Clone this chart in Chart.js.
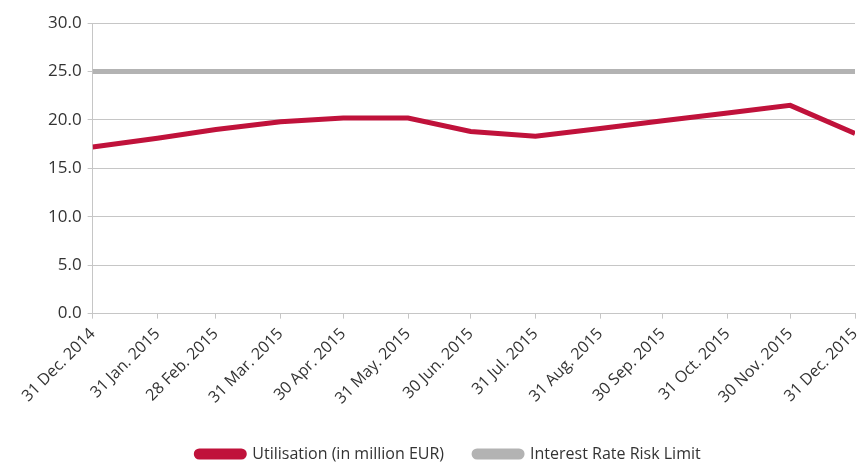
<!DOCTYPE html>
<html>
<head>
<meta charset="utf-8">
<script src="https://cdn.jsdelivr.net/npm/chart.js@4"></script>
<style>
  html, body { margin: 0; padding: 0; background: #fff; }
  #wrap { width: 858px; height: 463px; }
</style>
</head>
<body>
<div id="wrap"><canvas id="riskChart"></canvas></div>
<script>
// days since 31 Dec. 2014 for each month end
const dayOffsets = [0, 31, 59, 90, 120, 151, 181, 212, 243, 273, 304, 334, 365];
const tickLabels = [
  "31 Dec. 2014", "31 Jan. 2015", "28 Feb. 2015", "31 Mar. 2015", "30 Apr. 2015",
  "31 May. 2015", "30 Jun. 2015", "31 Jul. 2015", "31 Aug. 2015", "30 Sep. 2015",
  "31 Oct. 2015", "30 Nov. 2015", "31 Dec. 2015"
];
const utilisation = [17.2, 18.1, 19.0, 19.8, 20.2, 20.2, 18.8, 18.3, 19.1, 19.9, 20.7, 21.5, 18.6];
const riskLimit = [25, 25, 25, 25, 25, 25, 25, 25, 25, 25, 25, 25, 25];

const textColor = "#333";
const gridColor = "#c6c6c6";
const font = { family: "'Open Sans', sans-serif", size: 16 };

const toPoints = (vals) => vals.map((v, i) => ({ x: dayOffsets[i], y: v }));

new Chart(document.getElementById("riskChart").getContext("2d"), {
  type: "line",
  data: {
    datasets: [
      {
        label: "Utilisation (in million EUR)",
        data: toPoints(utilisation),
        borderColor: "#c0123b",
        backgroundColor: "#c0123b",
        borderWidth: 5,
        pointRadius: 0,
        tension: 0,
        order: 1,
      },
      {
        label: "Interest Rate Risk Limit",
        data: toPoints(riskLimit),
        borderColor: "#b3b3b3",
        backgroundColor: "#b3b3b3",
        borderWidth: 5,
        pointRadius: 0,
        order: 2,
      },
    ],
  },
  options: {
    responsive: true,
    maintainAspectRatio: false,
    animation: false,
    layout: { padding: { left: 42, right: 3, top: 23, bottom: -9 } },
    plugins: {
      tooltip: { enabled: false },
      legend: {
        position: "bottom",
        labels: {
          color: textColor,
          font: font,
          boxWidth: 48,
          boxHeight: 6,
          padding: 30,
          useBorderRadius: true,
          borderRadius: 3,
        },
      },
    },
    scales: {
      x: {
        type: "linear",
        min: 0,
        max: 365,
        afterBuildTicks: (scale) => {
          scale.ticks = dayOffsets.map((d) => ({ value: d }));
        },
        afterFit: (scale) => {
          scale.height += 2;
          scale.paddingRight = 0;
        },
        ticks: {
          color: textColor,
          font: font,
          autoSkip: false,
          minRotation: 45,
          maxRotation: 45,
          padding: 6,
          callback: (value, index) => tickLabels[index],
        },
        grid: { drawOnChartArea: false, color: gridColor, tickLength: 5 },
        border: { color: gridColor },
      },
      y: {
        min: 0,
        max: 30,
        ticks: {
          stepSize: 5,
          color: textColor,
          font: { family: font.family, size: 17 },
          padding: 6,
          callback: (value) => value.toFixed(1),
        },
        grid: { color: gridColor, tickLength: 5 },
        border: { color: gridColor },
      },
    },
  },
});
</script>
</body>
</html>
